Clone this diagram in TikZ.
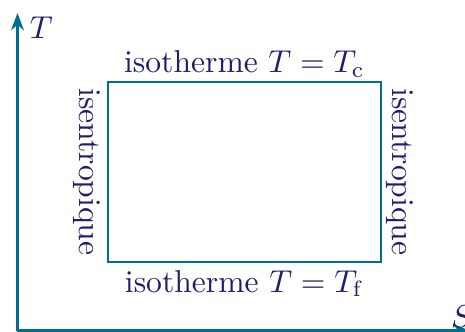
\documentclass[tikz,border=0pt]{standalone}
\usetikzlibrary{arrows.meta, positioning, calc}

\definecolor{axisteal}{RGB}{0,110,140}
\definecolor{labelnavy}{RGB}{30,30,110}

\begin{document}
\begin{tikzpicture}[
    % Global Styles
    >={Stealth[length=2mm, width=1.5mm]},
    font=\normalsize,
    axis/.style={draw=axisteal, line width=0.75pt, ->},
    cycle/.style={draw=axisteal, line width=0.75pt},
    lbl/.style={text=labelnavy, scale=1.04, inner sep=1.5pt}
]
    % --- Bounding box (margins of the reference) ---
    \useasboundingbox (-0.202, -0.006) rectangle (5.173, 3.821);

    % --- Axes ---
    \coordinate (O) at (0, 0);
    \coordinate (Tend) at (0, 3.67);
    \coordinate (Send) at (5.23, 0);
    \draw[axis] (O) -- (Tend);
    \draw[axis] (O) -- (Send);
    \node[lbl, anchor=north west, inner sep=1pt] (Tlab) at (0.10, 3.67) {$T$};
    \node[lbl, anchor=south west, inner sep=0pt] (Slab) at (5.005, 0.03) {$S$};

    % --- Cycle (Carnot) ---
    \coordinate (A) at (1.046, 0.792);
    \coordinate (C) at (4.202, 2.873);
    \node[cycle, inner sep=0pt, minimum width=3.156cm, minimum height=2.081cm] (cyc) at ($(A)!0.5!(C)$) {};

    % --- Labels ---
    \node[lbl, above, inner sep=1pt] (hot) at (cyc.north) {isotherme $T = T_\mathrm{c}$};
    \node[lbl, below, inner sep=2pt] (cold) at (cyc.south) {isotherme $T = T_\mathrm{f}$};
    \node[lbl, rotate=-90, anchor=north, inner sep=2pt] (isL) at (cyc.west) {isentropique};
    \node[lbl, rotate=-90, anchor=south, inner sep=1pt] (isR) at (cyc.east) {isentropique};

\end{tikzpicture}
\end{document}
